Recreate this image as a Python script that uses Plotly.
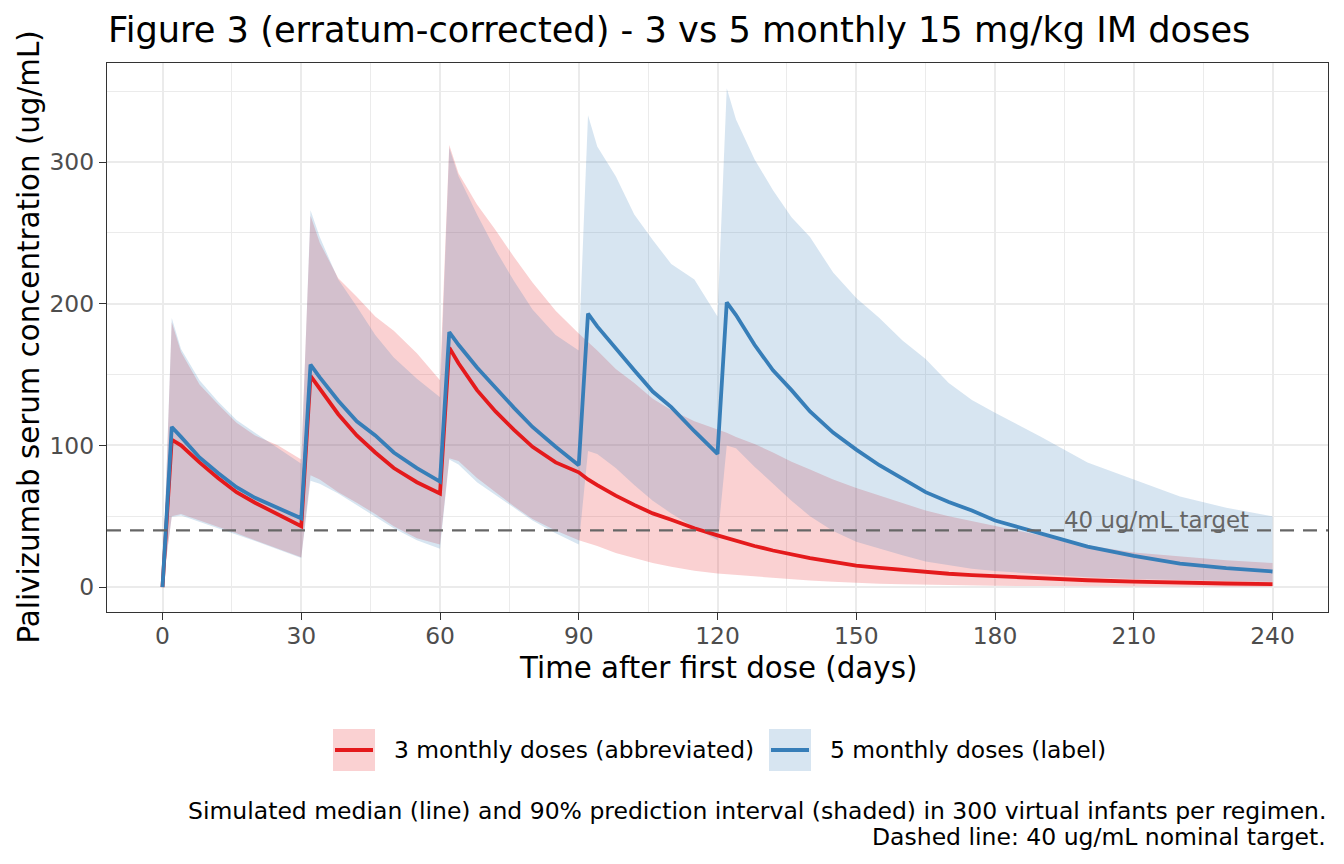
import plotly.graph_objects as go

# ---- data ----
days = [0, 2, 4, 8, 12, 16, 20, 25, 30,
        32, 34, 38, 42, 46, 50, 55, 60,
        62, 64, 68, 72, 76, 80, 85, 90,
        92, 94, 98, 102, 106, 110, 115, 120,
        122, 124, 128, 132, 136, 140, 145, 150, 155, 160, 165, 170, 175, 180,
        190, 200, 210, 220, 230, 240]

med_3 = [0, 104, 100, 88, 77, 67, 59.5, 51, 43,
         149, 140, 122, 107, 95, 84, 74, 66,
         169, 158, 139, 124, 111, 99, 88, 81,
         76, 72, 64.5, 58, 52, 47.5, 41.5, 36.5,
         34.5, 32.5, 29, 25.8, 23, 20.5, 17.7, 15.2, 13.5, 12, 10.6, 9.4, 8.4, 7.6,
         6.0, 4.8, 3.8, 3.0, 2.5, 2.1]
hi_3 = [0, 187, 166, 143, 129, 116, 107, 100, 90,
        262, 243, 218, 205, 191, 181, 165, 146,
        312, 292, 270, 252, 233, 215, 195, 179,
        173, 167, 154, 144, 133, 125, 117, 111,
        109, 106, 101, 95, 88.5, 83, 76, 70, 64.5, 59, 54, 50, 46.5, 43.5,
        36.5, 29.5, 24.4, 21.5, 19, 17]
lo_3 = [0, 50, 51.5, 47, 43, 38, 33, 27, 21,
        79, 76, 67, 59.6, 51.5, 43, 34.5, 30,
        91, 89, 77, 67, 57, 48, 40, 33,
        31, 29, 24, 20.5, 17, 14.3, 11.5, 9.5,
        9, 8.3, 7.2, 6.3, 5.4, 4.6, 3.7, 2.9, 2.4, 1.9, 1.6, 1.3, 1.1, 0.9,
        0.7, 0.5, 0.4, 0.3, 0.25, 0.2]

med_5 = [0, 113, 106, 91.5, 80.5, 70.5, 63, 56, 48.5,
         157, 148, 131.5, 117, 107, 95, 84, 74.5,
         180, 171, 155, 140.5, 126.5, 113, 99, 86,
         193, 184, 168, 153, 138, 127, 110, 94,
         201, 192, 171, 153, 139, 124, 109, 97, 86, 76.5, 67, 60, 54, 47,
         38, 28.5, 22, 16.5, 13.3, 11]
hi_5 = [0, 190, 168, 146, 131, 118, 109, 98, 87,
        266, 247, 217, 198, 178, 162, 147, 134,
        310, 290, 263, 238, 216, 196, 178, 167,
        333, 311, 290, 263, 245, 228, 217, 191,
        352, 330, 302, 280, 261, 247, 222, 204, 190, 174, 161, 144, 132, 123,
        106, 88, 76, 64, 56, 50]
lo_5 = [0, 49.5, 50.5, 46, 42, 37.5, 32.5, 26.5, 20.5,
        75, 73, 66, 58, 50, 41.5, 33, 27,
        90, 86.5, 74, 65, 56, 47, 38, 30,
        96, 94, 84, 72, 61, 52, 42, 33,
        100, 98, 85, 73, 61, 50, 39.5, 32, 27, 22.5, 18, 15.5, 13, 11.3,
        9, 7, 5.7, 4.8, 4.2, 3.7]

series_names = ["3 monthly doses (abbreviated)", "5 monthly doses (label)"]
line_colors = ["#E41A1C", "#377EB8"]
band_colors = ["rgba(228,26,28,0.2)", "rgba(55,126,184,0.2)"]
target = 40
x_ticks = [0, 30, 60, 90, 120, 150, 180, 210, 240]
y_ticks = [0, 100, 200, 300]

FONT = "DejaVu Sans"
OFF = 8                      # page body margin offset
W, H = 1344 - OFF, 864 - OFF
PL, PR, PT, PB = 107 - OFF, 1328 - OFF, 63 - OFF, 612 - OFF   # panel edges (figure px)


def px_x(p):
    """reference-image x pixel -> paper coordinate"""
    return (p - OFF - PL) / (PR - PL)


def px_y(p):
    """reference-image y pixel -> paper coordinate"""
    return (PB - (p - OFF)) / (PB - PT)


fig = go.Figure()
bands = [(lo_3, hi_3), (lo_5, hi_5)]
for (lo, hi), bc in zip(bands, band_colors):
    fig.add_trace(go.Scatter(x=days, y=lo, mode="lines", line=dict(width=0),
                             hoverinfo="skip", showlegend=False))
    fig.add_trace(go.Scatter(x=days, y=hi, mode="lines", line=dict(width=0),
                             fill="tonexty", fillcolor=bc,
                             hoverinfo="skip", showlegend=False))
for med, lc, nm in zip([med_3, med_5], line_colors, series_names):
    fig.add_trace(go.Scatter(x=days, y=med, mode="lines", name=nm,
                             line=dict(color=lc, width=3.8),
                             showlegend=False))

# dashed target line
fig.add_shape(type="line", xref="paper", x0=0, x1=1, yref="y", y0=target, y1=target,
              line=dict(color="#666666", width=2.4, dash="14px,9px"), layer="above")
fig.add_annotation(x=215, y=target, xref="x", yref="y", text="40 ug/mL target",
                   showarrow=False, yshift=10, yanchor="middle",
                   font=dict(family=FONT, size=22.9, color="#666666"))

# manual legend (ggplot style keys)
keys = [(333, 375, 392), (769, 811, 828)]
for (k0, k1, tx), nm, lc, bc in zip(keys, series_names, line_colors, band_colors):
    fig.add_shape(type="rect", xref="paper", yref="paper",
                  x0=px_x(k0), x1=px_x(k1), y0=px_y(771), y1=px_y(729),
                  fillcolor=bc, line=dict(width=0))
    fig.add_shape(type="line", xref="paper", yref="paper",
                  x0=px_x(k0 + 2), x1=px_x(k1 - 2), y0=px_y(750), y1=px_y(750),
                  line=dict(color=lc, width=4))
    fig.add_annotation(xref="paper", yref="paper", x=px_x(tx), y=px_y(750),
                       text=nm, showarrow=False, xanchor="left", yanchor="middle",
                       font=dict(family=FONT, size=23.4, color="black"))

# axis titles
fig.add_annotation(xref="paper", yref="paper", x=0.5, y=px_y(668),
                   text="Time after first dose (days)", showarrow=False,
                   xanchor="center", yanchor="middle",
                   font=dict(family=FONT, size=29.3, color="black"))
fig.add_annotation(xref="paper", yref="paper", x=px_x(28), y=0.5,
                   text="Palivizumab serum concentration (ug/mL)", showarrow=False,
                   textangle=-90, xanchor="center", yanchor="middle",
                   font=dict(family=FONT, size=29.3, color="black"))

# caption
fig.add_annotation(xref="paper", yref="paper", x=1, y=px_y(811),
                   text="Simulated median (line) and 90% prediction interval (shaded) in 300 virtual infants per regimen.",
                   showarrow=False, xanchor="right", yanchor="middle",
                   font=dict(family=FONT, size=23.5, color="black"))
fig.add_annotation(xref="paper", yref="paper", x=1, y=px_y(837),
                   text="Dashed line: 40 ug/mL nominal target.",
                   showarrow=False, xanchor="right", yanchor="middle",
                   font=dict(family=FONT, size=23.5, color="black"))

axis_common = dict(showline=True, linecolor="#333333", linewidth=1.4, mirror=True,
                   ticks="outside", ticklen=7, tickwidth=1.4, tickcolor="#333333",
                   tickfont=dict(family=FONT, size=23.4, color="#4D4D4D"),
                   showgrid=True, gridcolor="#EBEBEB", gridwidth=2,
                   zeroline=False)

fig.update_layout(
    width=W, height=H,
    margin=dict(l=PL, r=W - PR, t=PT, b=H - PB),
    paper_bgcolor="white", plot_bgcolor="white",
    font=dict(family=FONT),
    title=dict(text="Figure 3 (erratum-corrected) - 3 vs 5 monthly 15 mg/kg IM doses",
               x=(108 - OFF) / W, xanchor="left", xref="container",
               y=1 - (30 - OFF) / H, yanchor="middle", yref="container",
               font=dict(family=FONT, size=35.2, color="black")),
    xaxis=dict(range=[-12, 252], tickvals=x_ticks, ticktext=[str(v) for v in x_ticks],
               ticklabelstandoff=-4,
               minor=dict(dtick=15, tick0=15, showgrid=True, gridcolor="#EBEBEB", gridwidth=1, ticks=""),
               **axis_common),
    yaxis=dict(range=[-17.6, 369.9], tickvals=y_ticks, ticktext=[str(v) for v in y_ticks],
               minor=dict(dtick=50, tick0=50, showgrid=True, gridcolor="#EBEBEB", gridwidth=1, ticks=""),
               **axis_common),
    showlegend=False,
)

fig.write_html("out.html")
